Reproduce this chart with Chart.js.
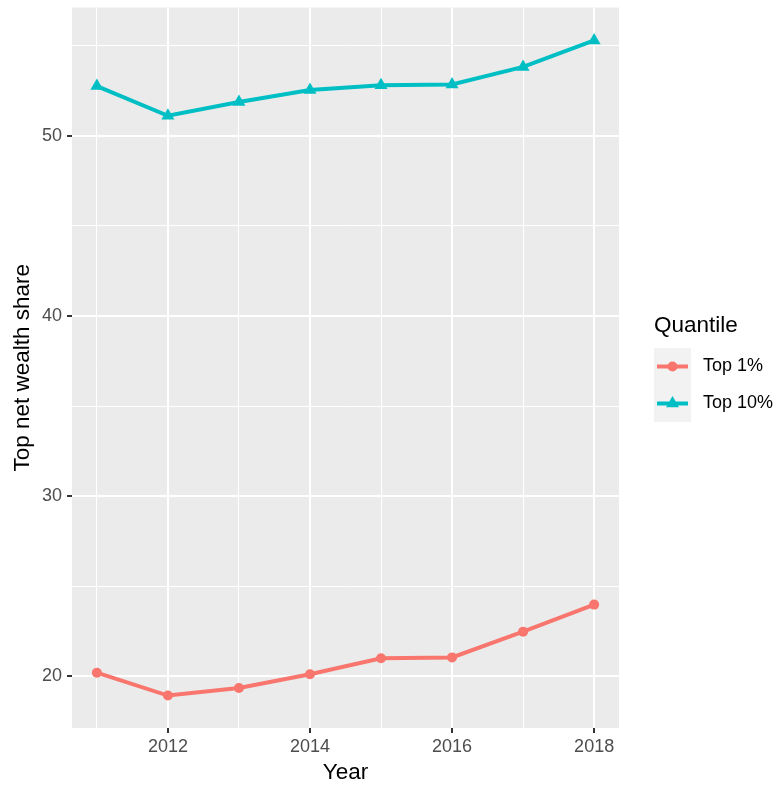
<!DOCTYPE html>
<html>
<head>
<meta charset="utf-8">
<script src="https://cdn.jsdelivr.net/npm/chart.js@4"></script>
<style>
  html, body { margin: 0; padding: 0; background: #fff; }
  #wrap { width: 779px; height: 787px; position: relative; }
</style>
</head>
<body>
<div id="wrap"><canvas id="wealthChart" width="779" height="787"></canvas></div>
<script>
const years = [2011, 2012, 2013, 2014, 2015, 2016, 2017, 2018];
const top1 = [20.2, 18.93, 19.35, 20.11, 21.0, 21.05, 22.48, 23.98];
const top10 = [52.77, 51.12, 51.88, 52.55, 52.82, 52.86, 53.83, 55.3];
const seriesNames = ['Top 1%', 'Top 10%'];
const xLabelYears = [2012, 2014, 2016, 2018];
const yGridValues = [20, 25, 30, 35, 40, 45, 50, 55];
const yLabelValues = [20, 30, 40, 50];

const FONT = '"Liberation Sans", Arial, Helvetica, sans-serif';

// grey panel behind grid
const panelBg = {
    id: 'panelBg',
    beforeDraw(chart) {
        const { ctx, chartArea: a } = chart;
        ctx.save();
        ctx.fillStyle = '#EBEBEB';
        ctx.fillRect(a.left, a.top, a.right - a.left, a.bottom - a.top);
        ctx.restore();
    },
};

// ggplot-like legend on the right
const sideLegend = {
    id: 'sideLegend',
    afterDraw(chart) {
        const ctx = chart.ctx;
        const x0 = 654, rowH = 37, y0 = 348;
        ctx.save();
        ctx.fillStyle = '#000';
        ctx.font = '22.5px ' + FONT;
        ctx.textBaseline = 'middle';
        ctx.textAlign = 'left';
        ctx.fillText('Quantile', x0, 326);

        ctx.fillStyle = '#F2F2F2';
        ctx.fillRect(x0, y0, 37, rowH * 2);

        chart.data.datasets.forEach((ds, i) => {
            const cy = y0 + rowH * i + rowH / 2;
            ctx.strokeStyle = ds.borderColor;
            ctx.lineWidth = 4;
            ctx.beginPath();
            ctx.moveTo(x0 + 3, cy);
            ctx.lineTo(x0 + 34, cy);
            ctx.stroke();
            ctx.fillStyle = ds.borderColor;
            const cx = x0 + 18.5;
            if (ds.pointStyle === 'triangle') {
                const r = ds.pointRadius;
                ctx.beginPath();
                ctx.moveTo(cx, cy - r);
                ctx.lineTo(cx + r * Math.sqrt(3) / 2, cy + r / 2);
                ctx.lineTo(cx - r * Math.sqrt(3) / 2, cy + r / 2);
                ctx.closePath();
                ctx.fill();
            } else {
                ctx.beginPath();
                ctx.arc(cx, cy, ds.pointRadius, 0, Math.PI * 2);
                ctx.fill();
            }
            ctx.fillStyle = '#000';
            ctx.font = '18px ' + FONT;
            ctx.fillText(ds.label, 703, cy);
        });
        ctx.restore();
    },
};

const ctx = document.getElementById('wealthChart').getContext('2d');
const chart = new Chart(ctx, {
    type: 'line',
    data: {
        datasets: [
            {
                label: seriesNames[0],
                data: years.map((y, i) => ({ x: y, y: top1[i] })),
                borderColor: '#F8766D',
                backgroundColor: '#F8766D',
                borderWidth: 4,
                pointStyle: 'circle',
                pointRadius: 5,
                pointBorderWidth: 0,
                fill: false,
            },
            {
                label: seriesNames[1],
                data: years.map((y, i) => ({ x: y, y: top10[i] })),
                borderColor: '#00BFC4',
                backgroundColor: '#00BFC4',
                borderWidth: 4,
                pointStyle: 'triangle',
                pointRadius: 7.5,
                pointBorderWidth: 0,
                fill: false,
            },
        ],
    },
    options: {
        responsive: false,
        animation: false,
        layout: { padding: { top: 7, right: 160, left: 0, bottom: 0 } },
        plugins: {
            legend: { display: false },
            tooltip: { enabled: false },
        },
        scales: {
            x: {
                type: 'linear',
                min: 2010.65,
                max: 2018.35,
                afterBuildTicks: (scale) => { scale.ticks = years.map(v => ({ value: v })); },
                afterFit: (scale) => {
                    scale.height = 59;
                    scale.paddingLeft = 0;
                    scale.paddingRight = 0;
                },
                border: { display: false },
                grid: {
                    color: '#FFFFFF',
                    lineWidth: (c) => (xLabelYears.includes(c.tick.value) ? 2 : 1),
                    tickColor: (c) => (xLabelYears.includes(c.tick.value) ? '#333333' : 'rgba(0,0,0,0)'),
                    tickLength: 5,
                },
                ticks: {
                    autoSkip: false,
                    maxRotation: 0,
                    padding: 3,
                    color: '#4D4D4D',
                    font: { family: FONT, size: 18 },
                    callback: (v) => (xLabelYears.includes(v) ? String(v) : ''),
                },
                title: {
                    display: true,
                    text: 'Year',
                    color: '#000',
                    font: { family: FONT, size: 22.5 },
                    padding: { top: 0, bottom: 1 },
                },
            },
            y: {
                min: 17.13,
                max: 57.13,
                afterBuildTicks: (scale) => { scale.ticks = yGridValues.map(v => ({ value: v })); },
                afterFit: (scale) => {
                    scale.width = 72;
                    scale.paddingTop = 0;
                    scale.paddingBottom = 0;
                },
                border: { display: false },
                grid: {
                    color: '#FFFFFF',
                    lineWidth: (c) => (yLabelValues.includes(c.tick.value) ? 2 : 1),
                    tickColor: (c) => (yLabelValues.includes(c.tick.value) ? '#333333' : 'rgba(0,0,0,0)'),
                    tickLength: 5,
                },
                ticks: {
                    autoSkip: false,
                    padding: 5,
                    color: '#4D4D4D',
                    font: { family: FONT, size: 18 },
                    callback: (v) => (yLabelValues.includes(v) ? String(v) : ''),
                },
                title: {
                    display: true,
                    text: 'Top net wealth share',
                    color: '#000',
                    font: { family: FONT, size: 22.5 },
                    padding: { top: 9, bottom: 0 },
                },
            },
        },
    },
    plugins: [panelBg, sideLegend],
});
</script>
</body>
</html>
